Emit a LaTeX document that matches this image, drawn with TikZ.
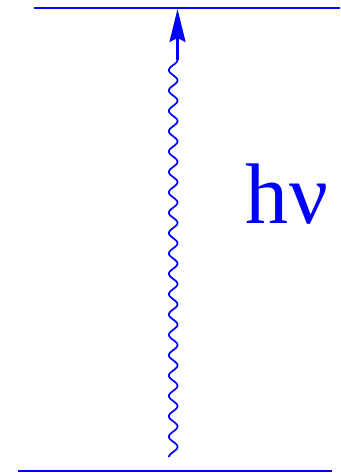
\documentclass[tikz,border=0pt]{standalone}
\usepackage{fontspec}
\setmainfont{Liberation Serif}
\usetikzlibrary{arrows.meta}
\definecolor{lineblue}{RGB}{0,0,255}
\begin{document}
\begin{tikzpicture}[x=1pt,y=-1pt,
  level/.style={draw=lineblue, line width=2pt},
  wave/.style={draw=lineblue, line width=1.7pt},
  shaft/.style={draw=lineblue, line width=2.2pt, -{Stealth[length=33pt,width=16pt,inset=4pt]}}]
\useasboundingbox (0,0) rectangle (340,473);
\coordinate (tl) at (34,8.5);
\coordinate (tr) at (340,8.5);
\coordinate (bl) at (18,471);
\coordinate (br) at (332,471);
\coordinate (wtop) at (177.5,60);
\coordinate (tip) at (177.5,9);
\draw[level] (tl) -- (tr);
\draw[level] (bl) -- (br);
\draw[wave, domain=0:19.5, samples=600, smooth, variable=\t]
  plot ({173.2-4.3*cos(360*\t)}, {457-\t*397/19.5});
\draw[shaft] (wtop) -- (tip);
\node[anchor=base west, inner sep=0, text=lineblue, font=\fontsize{86}{86}\selectfont] (hnu) at (245,223) {h\kern1ptν};
\end{tikzpicture}
\end{document}
